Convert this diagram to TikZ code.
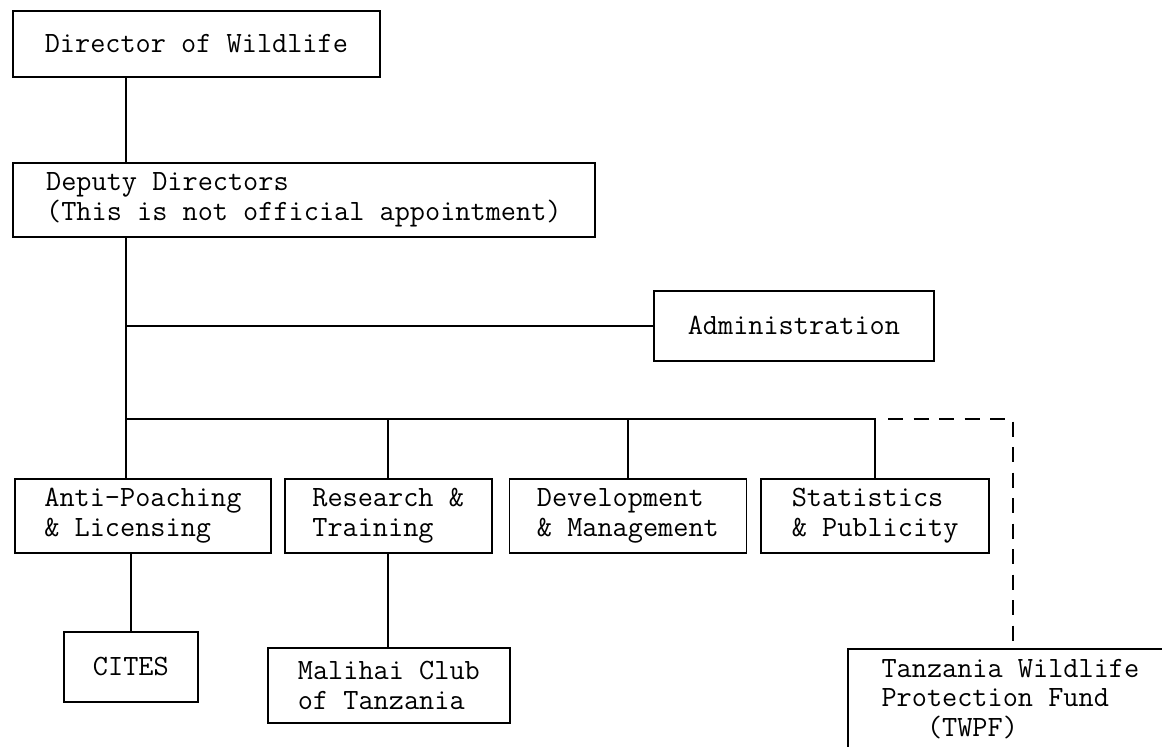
\documentclass[tikz,border=0pt]{standalone}
\usepackage{fontspec}
\usetikzlibrary{positioning, calc}

\begin{document}
\begin{tikzpicture}[
  %% caixas do organograma
  orgbox/.style={
    rectangle, draw=black, line width=1pt,
    align=left, inner xsep=3pt, inner ysep=2pt,
    fill=white, font=\ttfamily\fontsize{16.75pt}{17pt}\selectfont
  },
  %% linhas de ligacao
  link/.style={line width=1pt},
  %% ligacao tracejada (fundo)
  dlink/.style={line width=1pt, dash pattern=on 0.3cm off 0.21cm}
]

\useasboundingbox (0,0) rectangle (23.24,-14.92);

%% ================================================================
%% DIRECAO
%% ================================================================
\node[orgbox, anchor=north west, minimum width=7.34cm, minimum height=1.32cm]
  (director) at (0.24,-0.2) {Director of Wildlife};

\node[orgbox, anchor=north west, minimum width=11.64cm, minimum height=1.48cm]
  (deputy) at (0.24,-3.24) {Deputy Directors\\(This is not official appointment)};

%% eixo vertical principal
\coordinate (spine) at (2.52,-4.72);

\node[orgbox, anchor=north west, minimum width=5.6cm, minimum height=1.4cm]
  (admin) at (13.06,-5.8) {Administration};

%% ================================================================
%% DIVISOES
%% ================================================================
\coordinate (bus) at (2.52,-8.38);

\node[orgbox, anchor=north west, minimum width=5.12cm, minimum height=1.48cm]
  (antipoach) at (0.28,-9.56) {Anti-Poaching\\\& Licensing};

\node[orgbox, minimum width=4.14cm, minimum height=1.48cm,
      right=0.24cm of antipoach] (research) {Research \&\\Training};

\node[orgbox, minimum width=4.74cm, minimum height=1.48cm,
      right=0.32cm of research] (develop) {Development\\\& Management};

\node[orgbox, minimum width=4.56cm, minimum height=1.48cm,
      right=0.26cm of develop] (stats) {Statistics\\\& Publicity};

%% ================================================================
%% ORGAOS LIGADOS
%% ================================================================
\node[orgbox, anchor=north west, minimum width=2.68cm, minimum height=1.4cm]
  (cites) at (1.26,-12.62) {CITES};

\node[orgbox, anchor=north west, minimum width=4.84cm, minimum height=1.5cm]
  (malihai) at (5.34,-12.94) {Malihai Club\\of Tanzania};

\node[orgbox, anchor=north west, minimum width=6.5cm, inner ysep=0.2cm]
  (twpf) at (16.94,-12.96) {Tanzania Wildlife\\Protection Fund\\\hphantom{xxx}(TWPF)};

%% ================================================================
%% LIGACOES
%% ================================================================
\draw[link] (director.south -| spine) -- (deputy.north -| spine);
\draw[link] (deputy.south -| spine) -- (antipoach.north -| spine);
\draw[link] (spine |- admin.west) -- (admin.west);

\draw[link] (bus) -| (stats.north);
\draw[link] (research.north |- bus) -- (research.north);
\draw[link] (develop.north |- bus) -- (develop.north);

\draw[link] (antipoach.south -| cites.north) -- (cites.north);
\draw[link] (research.south) -- (malihai.north -| research.south);

%% ligacao tracejada ao fundo
\coordinate (dashstart) at ($(stats.north |- bus) + (0.26,0)$);
\coordinate (fundtop) at ($(twpf.north west) + (3.32,0)$);
\draw[dlink] (dashstart) -| (fundtop);

\end{tikzpicture}
\end{document}
